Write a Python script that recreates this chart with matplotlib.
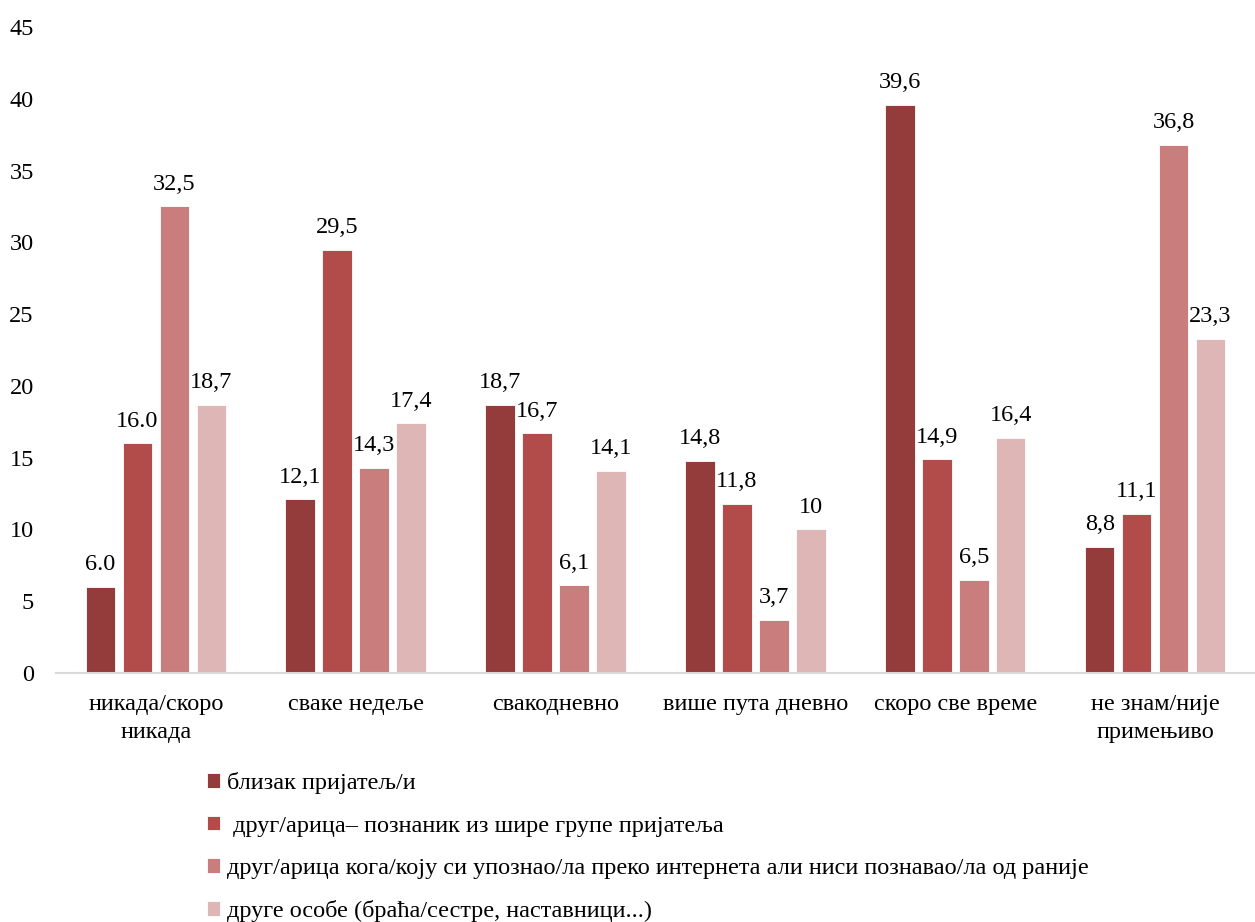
import matplotlib.pyplot as plt
import numpy as np

categories = ['никада/скоро\nникада', 'сваке недеље', 'свакодневно',
              'више пута дневно', 'скоро све време', 'не знам/није\nпримењиво']
series_names = ['близак пријатељ/и',
                ' друг/арица– познаник из шире групе пријатеља',
                'друг/арица кога/коју си упознао/ла преко интернета али ниси познавао/ла од раније',
                'друге особе (браћа/сестре, наставници...)']
values = [
    [6.0, 12.1, 18.7, 14.8, 39.6, 8.8],
    [16.0, 29.5, 16.7, 11.8, 14.9, 11.1],
    [32.5, 14.3, 6.1, 3.7, 6.5, 36.8],
    [18.7, 17.4, 14.1, 10.0, 16.4, 23.3],
]
value_labels = [
    ['6.0', '12,1', '18,7', '14,8', '39,6', '8,8'],
    ['16.0', '29,5', '16,7', '11,8', '14,9', '11,1'],
    ['32,5', '14,3', '6,1', '3,7', '6,5', '36,8'],
    ['18,7', '17,4', '14,1', '10', '16,4', '23,3'],
]
colors = ['#943c3c', '#b24c4a', '#c97d7c', '#dfb6b6']

plt.rcParams['font.family'] = ['Liberation Serif', 'DejaVu Serif']
fs = 17.5

fig = plt.figure(figsize=(12.55, 9.22), dpi=100)
ax = fig.add_axes([0.0446, 0.270, 0.9554, 0.7007])

x = np.arange(len(categories))
step = 0.185
width = 0.148
for i, (vals, labs) in enumerate(zip(values, value_labels)):
    pos = x + (i - 1.5) * step
    bars = ax.bar(pos, vals, width, color=colors[i], edgecolor='white',
                  linewidth=0.6, label=series_names[i], zorder=2)
    for b, lab in zip(bars, labs):
        ax.text(b.get_x() + b.get_width() / 2, b.get_height() + 0.8, lab,
                ha='center', va='bottom', fontsize=fs)

ax.set_xlim(-0.5, len(categories) - 0.5)
ax.set_ylim(0, 45)
ax.set_yticks(range(0, 46, 5))
ax.set_xticks(x)
ax.set_xticklabels(categories, fontsize=fs, linespacing=1.45)
ax.tick_params(axis='y', labelsize=fs, length=0, pad=16)
ax.tick_params(axis='x', length=0, pad=15)
for s in ['top', 'right', 'left']:
    ax.spines[s].set_visible(False)
ax.spines['bottom'].set_color('#d9d9d9')
ax.spines['bottom'].set_linewidth(1.5)

fig.legend(loc='upper left', bbox_to_anchor=(0.157, 0.173), frameon=False,
           fontsize=fs, handlelength=0.55, handleheight=0.55, handletextpad=0.3,
           labelspacing=0.88, borderaxespad=0)

fig.savefig('out.png', dpi=100)
